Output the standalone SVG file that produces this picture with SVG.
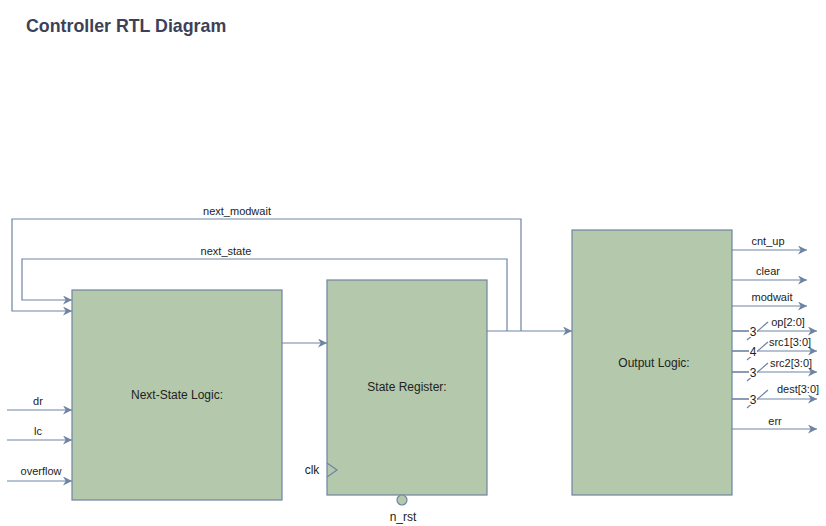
<svg xmlns="http://www.w3.org/2000/svg" width="826" height="526" viewBox="0 0 826 526">
<defs>
<marker id="arr" viewBox="0 0 10 10" refX="10" refY="5" markerWidth="9" markerHeight="9" markerUnits="userSpaceOnUse" orient="auto">
<path d="M0,0 L10,5 L0,10 L3,5 Z" fill="#6f83a4"/>
</marker>
</defs>
<style>
.box{fill:#b4c9ab;stroke:#6f83a4;stroke-width:1.2}
.ln{fill:none;stroke:#6f83a4;stroke-width:1.2}
.ar{fill:none;stroke:#6f83a4;stroke-width:1.2;marker-end:url(#arr)}
.t{font-family:"Liberation Sans",Arial,sans-serif;font-size:11px;fill:#222;text-anchor:middle}
.bt{font-family:"Liberation Sans",Arial,sans-serif;font-size:12px;fill:#222;text-anchor:middle}
.bw{font-family:"Liberation Sans",Arial,sans-serif;font-size:12px;fill:#222;text-anchor:middle}
.title{font-family:"Liberation Sans",Arial,sans-serif;font-size:17.8px;font-weight:bold;fill:#3d4158}
</style>
<rect width="826" height="526" fill="#ffffff"/>
<text class="title" x="26" y="32">Controller RTL Diagram</text>

<g id="connectors">
<polyline class="ar" points="521,331 521,219 12,219 12,311 72,311"/>
<polyline class="ar" points="507,331 507,259 22,259 22,300 72,300"/>
<line class="ar" x1="282" y1="343" x2="327" y2="343"/>
<line class="ar" x1="487" y1="331" x2="572" y2="331"/>
<line class="ar" x1="7" y1="410" x2="72" y2="410"/>
<line class="ar" x1="7" y1="440" x2="72" y2="440"/>
<line class="ar" x1="7" y1="481" x2="72" y2="481"/>
<line class="ar" x1="732" y1="250" x2="807" y2="250"/>
<line class="ar" x1="732" y1="280" x2="807" y2="280"/>
<line class="ar" x1="732" y1="306" x2="807" y2="306"/>
<line class="ar" x1="732" y1="331" x2="817" y2="331"/>
<line class="ar" x1="732" y1="351" x2="817" y2="351"/>
<line class="ar" x1="732" y1="372" x2="817" y2="372"/>
<line class="ar" x1="732" y1="399" x2="817" y2="399"/>
<line class="ar" x1="732" y1="429" x2="817" y2="429"/>
<line class="ln" x1="747" y1="340" x2="768" y2="322"/>
<line class="ln" x1="747" y1="360" x2="768" y2="342"/>
<line class="ln" x1="747" y1="381" x2="768" y2="363"/>
<line class="ln" x1="747" y1="408" x2="768" y2="390"/>
<text class="t" x="237" y="215">next_modwait</text>
<text class="t" x="226" y="255">next_state</text>
<text class="t" x="38" y="405">dr</text>
<text class="t" x="38" y="435">lc</text>
<text class="t" x="41" y="475">overflow</text>
<text class="t" x="768" y="245">cnt_up</text>
<text class="t" x="768" y="275">clear</text>
<text class="t" x="772" y="301">modwait</text>
<text class="t" x="788" y="326">op[2:0]</text>
<text class="t" x="790" y="346">src1[3:0]</text>
<text class="t" x="791" y="367">src2[3:0]</text>
<text class="t" x="798" y="393">dest[3:0]</text>
<text class="t" x="775" y="425">err</text>
<rect x="749" y="326" width="8" height="11" fill="#ffffff"/>
<rect x="749" y="346" width="8" height="11" fill="#ffffff"/>
<rect x="749" y="367" width="8" height="11" fill="#ffffff"/>
<rect x="749" y="394" width="8" height="11" fill="#ffffff"/>
<line class="ln" x1="732" y1="331" x2="749" y2="331"/>
<line class="ln" x1="732" y1="351" x2="749" y2="351"/>
<line class="ln" x1="732" y1="372" x2="749" y2="372"/>
<line class="ln" x1="732" y1="399" x2="749" y2="399"/>
<text class="bw" x="753" y="336">3</text>
<text class="bw" x="753" y="356">4</text>
<text class="bw" x="753" y="377">3</text>
<text class="bw" x="753" y="404">3</text>
</g>

<g id="next-state-logic">
<rect class="box" x="72" y="290" width="210" height="210"/>
<text class="bt" x="177" y="399">Next-State Logic:</text>
</g>

<g id="state-register">
<rect class="box" x="327" y="280" width="160" height="215"/>
<text class="bt" x="407" y="391">State Register:</text>
<polyline class="ln" points="327,463 337,470 327,477"/>
<text class="bt" x="312" y="474">clk</text>
<circle cx="402" cy="500" r="5" fill="#b4c9ab" stroke="#6f83a4" stroke-width="1.2"/>
<text class="bt" x="403" y="521">n_rst</text>
</g>

<g id="output-logic">
<rect class="box" x="572" y="230" width="160" height="265"/>
<text class="bt" x="654" y="367">Output Logic:</text>
</g>
</svg>
